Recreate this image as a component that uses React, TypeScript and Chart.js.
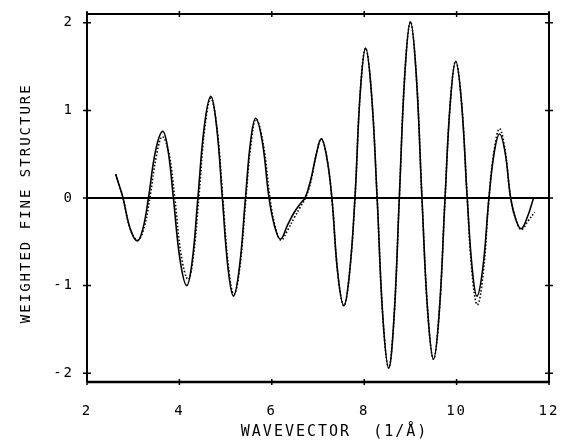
import React, { useEffect, useRef } from "react";
import { Chart, registerables } from "chart.js";

Chart.register(...registerables);

// Wavevector (1/Å) and weighted fine structure, solid curve
const kSolid = [
  2.62, 2.7, 2.78, 2.935, 3.09, 3.21, 3.33, 3.485, 3.64, 3.755, 3.87, 4.015, 4.16, 4.28, 4.4,
  4.54, 4.68, 4.805, 4.93, 5.05, 5.17, 5.3, 5.43, 5.54, 5.65, 5.795, 5.94, 6.065, 6.19, 6.34,
  6.49, 6.64, 6.72, 6.84, 6.955, 7.07, 7.185, 7.3, 7.43, 7.56, 7.68, 7.8, 7.915, 8.03, 8.155,
  8.28, 8.405, 8.53, 8.645, 8.76, 8.88, 9.0, 9.125, 9.25, 9.375, 9.5, 9.625, 9.75, 9.865, 9.98,
  10.105, 10.23, 10.335, 10.44, 10.57, 10.7, 10.815, 10.93, 11.05, 11.17, 11.285, 11.4, 11.53, 11.66,
];
const fitSolid = [
  0.27, 0.14, 0, -0.35, -0.49, -0.35, 0, 0.54, 0.76, 0.54, 0, -0.71, -1.0, -0.71, 0,
  0.82, 1.16, 0.82, 0, -0.79, -1.12, -0.79, 0, 0.64, 0.91, 0.64, 0, -0.33, -0.47, -0.31,
  -0.16, -0.05, 0, 0.2, 0.48, 0.675, 0.48, 0, -0.87, -1.23, -0.87, 0, 1.21, 1.71, 1.21,
  0, -1.37, -1.94, -1.37, 0, 1.42, 2.01, 1.42, 0, -1.3, -1.84, -1.3, 0, 1.1, 1.56,
  1.1, 0, -0.79, -1.12, -0.79, 0, 0.52, 0.73, 0.52, 0, -0.25, -0.35, -0.22, -0.01,
];

// Dotted curve
const kDotted = [
  2.62, 2.7, 2.78, 2.935, 3.1, 3.24, 3.36, 3.51, 3.63, 3.77, 3.9, 4.04, 4.19, 4.3, 4.42,
  4.55, 4.68, 4.81, 4.94, 5.06, 5.18, 5.31, 5.44, 5.55, 5.66, 5.815, 5.96, 6.08, 6.2, 6.35,
  6.49, 6.62, 6.73, 6.85, 6.955, 7.07, 7.185, 7.3, 7.43, 7.56, 7.68, 7.8, 7.915, 8.03, 8.155,
  8.28, 8.405, 8.53, 8.645, 8.76, 8.88, 9.0, 9.125, 9.25, 9.375, 9.5, 9.625, 9.75, 9.865, 9.98,
  10.105, 10.23, 10.335, 10.45, 10.58, 10.7, 10.815, 10.93, 11.05, 11.17, 11.285, 11.4, 11.55, 11.69,
];
const fitDotted = [
  0.27, 0.14, 0, -0.35, -0.48, -0.33, 0, 0.5, 0.7, 0.52, 0, -0.66, -0.93, -0.68, 0,
  0.8, 1.14, 0.81, 0, -0.78, -1.1, -0.78, 0, 0.62, 0.9, 0.62, 0, -0.34, -0.48, -0.36,
  -0.22, -0.1, 0, 0.2, 0.48, 0.675, 0.48, 0, -0.87, -1.23, -0.87, 0, 1.21, 1.71, 1.21,
  0, -1.37, -1.94, -1.37, 0, 1.42, 2.01, 1.42, 0, -1.3, -1.84, -1.3, 0, 1.1, 1.56,
  1.1, 0, -0.86, -1.22, -0.84, 0, 0.55, 0.79, 0.54, 0, -0.25, -0.36, -0.26, -0.16,
];

const xTicks = [2, 4, 6, 8, 10, 12];
const yTicks = [-2, -1, 0, 1, 2];
const xTitle = "   WAVEVECTOR  (1/Å)";
const yTitle = "WEIGHTED FINE STRUCTURE ";

const FONT = "'DejaVu Sans Mono', monospace";

const framePlugin = {
  id: "frame",
  beforeDraw(chart: any) {
    (chart.ctx as any).letterSpacing = "2px";
  },
  afterDraw(chart: any) {
    const { ctx, chartArea: a, scales } = chart;
    ctx.save();
    ctx.strokeStyle = "#000";
    ctx.lineCap = "butt";
    // frame
    ctx.lineWidth = 2;
    ctx.beginPath();
    ctx.moveTo(a.left, a.top - 2);
    ctx.lineTo(a.left, a.bottom);
    ctx.moveTo(a.left, a.top);
    ctx.lineTo(a.right, a.top);
    ctx.moveTo(a.right, a.top - 2);
    ctx.lineTo(a.right, a.bottom + 1);
    ctx.stroke();
    ctx.lineWidth = 2.5;
    ctx.beginPath();
    ctx.moveTo(a.left, a.bottom);
    ctx.lineTo(a.right, a.bottom);
    ctx.stroke();
    // zero line
    const y0 = scales.y.getPixelForValue(0);
    ctx.lineWidth = 2;
    ctx.beginPath();
    ctx.moveTo(a.left, y0);
    ctx.lineTo(a.right, y0);
    ctx.stroke();
    // ticks
    ctx.lineWidth = 1.5;
    ctx.beginPath();
    for (const v of yTicks) {
      const y = scales.y.getPixelForValue(v);
      ctx.moveTo(a.left - 4, y);
      ctx.lineTo(a.left + 4, y);
      ctx.moveTo(a.right - 4, y);
      ctx.lineTo(a.right + 4, y);
    }
    for (const v of xTicks) {
      const x = scales.x.getPixelForValue(v);
      ctx.moveTo(x, a.top - 3);
      ctx.lineTo(x, a.top + 3);
      ctx.moveTo(x, a.bottom - 3);
      ctx.lineTo(x, a.bottom + 3);
    }
    ctx.stroke();
    ctx.restore();
  },
};

export default function App() {
  const ref = useRef<HTMLCanvasElement | null>(null);
  useEffect(() => {
    if (!ref.current) return;
    const chart = new Chart(ref.current, {
      type: "line",
      data: {
        datasets: [
          {
            label: "dotted",
            data: kDotted.map((k, i) => ({ x: k, y: fitDotted[i] })),
            borderColor: "#000",
            borderWidth: 1.6,
            borderDash: [1.5, 2],
            pointRadius: 0,
            fill: false,
            tension: 0.4,
          },
          {
            label: "solid",
            data: kSolid.map((k, i) => ({ x: k, y: fitSolid[i] })),
            borderColor: "#000",
            borderWidth: 1.6,
            pointRadius: 0,
            fill: false,
            tension: 0.4,
          },
        ],
      },
      options: {
        animation: false,
        responsive: false,
        layout: { padding: { top: 14, right: 13, left: 0, bottom: 0 } },
        plugins: { legend: { display: false }, tooltip: { enabled: false } },
        scales: {
          x: {
            type: "linear",
            min: 2,
            max: 12,
            afterBuildTicks: (s: any) => {
              s.ticks = xTicks.map((v) => ({ value: v }));
            },
            afterFit: (s: any) => {
              s.height = 59;
              s.paddingLeft = 0;
              s.paddingRight = 0;
            },
            grid: { display: false, drawTicks: false },
            border: { display: false },
            ticks: {
              color: "#000",
              padding: 21,
              maxRotation: 0,
              font: { family: FONT, size: 14 },
              callback: (v: any) => String(v),
            },
            title: {
              display: true,
              text: xTitle,
              color: "#000",
              padding: { top: 0, bottom: 0 },
              font: { family: FONT, size: 15 },
            },
          },
          y: {
            type: "linear",
            min: -2.1,
            max: 2.1,
            afterBuildTicks: (s: any) => {
              s.ticks = yTicks.map((v) => ({ value: v }));
            },
            afterFit: (s: any) => {
              s.width = 87;
              s.paddingTop = 0;
              s.paddingBottom = 0;
            },
            grid: { display: false, drawTicks: false },
            border: { display: false },
            ticks: {
              color: "#000",
              padding: 13,
              font: { family: FONT, size: 14 },
              callback: (v: any) => String(v),
            },
            title: {
              display: true,
              text: yTitle,
              color: "#000",
              padding: { top: 18, bottom: 0 },
              font: { family: FONT, size: 14 },
            },
          },
        },
      },
      plugins: [framePlugin],
    });
    return () => chart.destroy();
  }, []);
  return (
    <div style={{ position: "absolute", left: 0, top: 0, width: 562, height: 441, background: "#fff" }}>
      <canvas ref={ref} width={562} height={441} style={{ display: "block" }} />
    </div>
  );
}
